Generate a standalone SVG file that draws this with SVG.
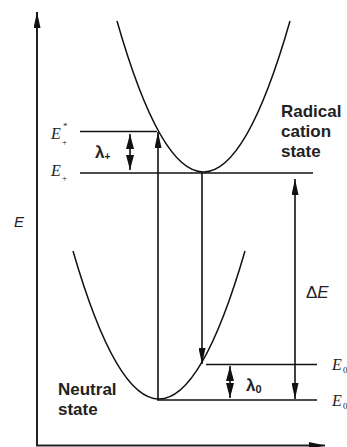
<svg xmlns="http://www.w3.org/2000/svg" width="347" height="447" viewBox="0 0 347 447">
<defs>
<marker id="ah" viewBox="0 0 16 7" markerWidth="16" markerHeight="7" refX="16" refY="3.5" orient="auto-start-reverse" markerUnits="userSpaceOnUse">
<path d="M0,0 L16,3.5 L0,7 z" fill="#111"/>
</marker>
<marker id="ahs" viewBox="0 0 15 8" markerWidth="15" markerHeight="8" refX="15" refY="4" orient="auto-start-reverse" markerUnits="userSpaceOnUse">
<path d="M0,0 L15,4 L0,8 z" fill="#111"/>
</marker>
<style>
.ln{stroke:#111;stroke-width:1.6;fill:none}
.ax{stroke:#222;stroke-width:2;fill:none}
.cv{stroke:#111;stroke-width:1.5;fill:none}
.sans{font-family:"Liberation Sans",Arial,sans-serif;fill:#222}
.bold{font-weight:bold;font-size:17px}
.ser{font-family:"Liberation Serif","Times New Roman",serif;font-style:italic;fill:#222;font-size:16px}
.sm{font-family:"Liberation Serif","Times New Roman",serif;fill:#222;font-size:9px}
</style>
</defs>
<g id="axes">
<line class="ax" x1="37" y1="445.5" x2="37" y2="12" marker-end="url(#ah)"/>
<line class="ax" x1="36" y1="445.5" x2="325" y2="445.5" marker-end="url(#ah)"/>
<text class="sans" x="14" y="227" font-size="15" font-style="italic">E</text>
</g>
<g id="radical-cation-curve">
<path class="cv" d="M117,21 Q203.5,323 290,21"/>
<text class="sans bold"><tspan x="281" y="117">Radical</tspan><tspan x="281" y="137">cation</tspan><tspan x="281" y="157">state</tspan></text>
</g>
<g id="neutral-curve">
<path class="cv" d="M73,251 Q159,547 245,251"/>
<text class="sans bold"><tspan x="58" y="395">Neutral</tspan><tspan x="58" y="415">state</tspan></text>
</g>
<g id="level-Eplus-star">
<line class="ln" x1="80" y1="131.5" x2="157" y2="131.5"/>
<text class="ser" x="51" y="139">E</text>
<text class="sm" x="63" y="129">*</text>
<text class="sm" x="62" y="145">+</text>
</g>
<g id="level-Eplus">
<line class="ln" x1="80" y1="173" x2="313" y2="173"/>
<text class="ser" x="51" y="176">E</text>
<text class="sm" x="62" y="181">+</text>
</g>
<g id="level-E0prime">
<line class="ln" x1="206" y1="364.5" x2="317" y2="364.5"/>
<text class="ser" x="332" y="370" font-size="17">E</text>
<text class="sm" x="343" y="373">0</text>
</g>
<g id="level-E0">
<line class="ln" x1="157" y1="400" x2="317" y2="400"/>
<text class="ser" x="332" y="406" font-size="17">E</text>
<text class="sm" x="343" y="409">0</text>
</g>
<g id="connectors">
<line class="ln" x1="158" y1="400" x2="158" y2="132" marker-end="url(#ah)"/>
<line class="ln" x1="202" y1="173" x2="202" y2="364" marker-end="url(#ah)"/>
<line class="ln" x1="295" y1="179" x2="295" y2="399" marker-start="url(#ah)" marker-end="url(#ah)"/>
<line class="ln" x1="130" y1="134" x2="130" y2="170" marker-start="url(#ahs)" marker-end="url(#ahs)"/>
<line class="ln" x1="230" y1="366" x2="230" y2="398" marker-start="url(#ahs)" marker-end="url(#ahs)"/>
</g>
<g id="labels">
<text class="sans" x="95" y="158" font-size="17" font-weight="bold">λ<tspan font-size="10" dy="2">+</tspan></text>
<text class="sans" x="246" y="391" font-size="17" font-weight="bold">λ<tspan font-size="11" dy="2">0</tspan></text>
<text class="sans" x="306" y="298" font-size="17">Δ<tspan font-style="italic">E</tspan></text>
</g>
</svg>
